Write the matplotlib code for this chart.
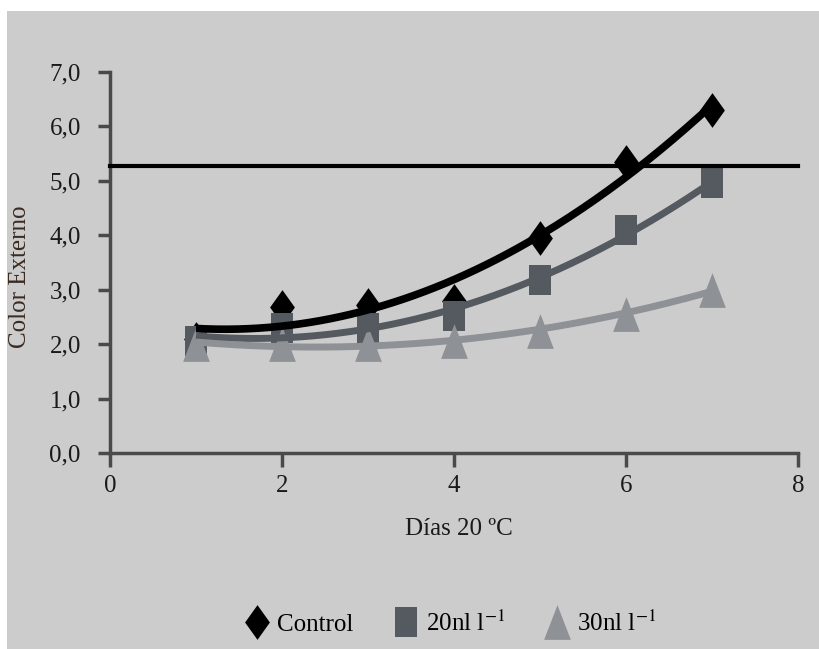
import matplotlib.pyplot as plt
import numpy as np
from matplotlib.patches import Rectangle
from matplotlib.lines import Line2D

# Data
dias = [1, 2, 3, 4, 5, 6, 7]
control = [2.1, 2.68, 2.72, 2.8, 3.95, 5.35, 6.3]
trat_20 = [2.05, 2.3, 2.3, 2.52, 3.18, 4.1, 4.96]
trat_30 = [2.0, 2.0, 2.0, 2.05, 2.25, 2.55, 3.0]
limite = 5.27
series_labels = ['Control', '20nl l$^{-1}$', '30nl l$^{-1}$']
y_ticks = [0, 1, 2, 3, 4, 5, 6, 7]
x_ticks = [0, 2, 4, 6, 8]


def main():
    plt.rcParams['font.family'] = ['Liberation Serif', 'DejaVu Serif']
    plt.rcParams['mathtext.fontset'] = 'stix'

    bg = '#cccccc'
    fig = plt.figure(figsize=(8.2, 6.49), dpi=100, facecolor='white')
    fig.patches.append(Rectangle((7 / 820, 0), 1, 1 - 11 / 649, transform=fig.transFigure,
                                 facecolor=bg, edgecolor='none', zorder=-10))
    ax = fig.add_axes([110 / 820, 1 - 453 / 649, 688 / 820, 381 / 649])
    ax.set_facecolor(bg)

    # tall markers (source image is stretched vertically)
    diamond = [(0, 1.4), (1, 0), (0, -1.4), (-1, 0), (0, 1.4)]
    square = [(-0.74, -1), (0.74, -1), (0.74, 1), (-0.74, 1), (-0.74, -1)]
    triangle = [(0, 1), (0.77, -1), (-0.77, -1), (0, 1)]

    styles = [
        (control, '#000000', '#000000', diamond, 25, 5.5),
        (trat_20, '#555a60', '#555a60', square, 22, 5),
        (trat_30, '#8e9195', '#8e9195', triangle, 25, 5),
    ]
    xs = np.linspace(1, 7, 200)
    handles = []
    for (vals, mcol, lcol, mk, ms, lw), lab in zip(styles, series_labels):
        ax.plot(dias, vals, linestyle='none', marker=mk, markersize=ms,
                color=mcol, markeredgewidth=0, zorder=3)
        coef = np.polyfit(dias, vals, 2)
        ax.plot(xs, np.polyval(coef, xs), color=lcol, lw=lw, zorder=4,
                solid_capstyle='butt')
        handles.append(Line2D([], [], linestyle='none', marker=mk, markersize=ms,
                              color=mcol, markeredgewidth=0, label=lab))

    ax.plot([0, 8], [limite, limite], color='#000000', lw=3, zorder=5, clip_on=False)

    ax.set_xlim(0, 8)
    ax.set_ylim(0, 7)
    ax.set_xticks(x_ticks)
    ax.set_yticks(y_ticks)
    ax.set_yticklabels([f'{v:.1f}'.replace('.', ',') for v in y_ticks])
    for s in ['top', 'right']:
        ax.spines[s].set_visible(False)
    for s in ['left', 'bottom']:
        ax.spines[s].set_color('#4a4a4a')
        ax.spines[s].set_linewidth(2.5)
    ax.tick_params(axis='y', direction='out', length=9, width=2.5, color='#4a4a4a',
                   pad=12, labelsize=18, labelcolor='#1a1a1a')
    ax.tick_params(axis='x', direction='out', length=10, width=2.5, color='#4a4a4a',
                   pad=6, labelsize=18, labelcolor='#1a1a1a')

    ax.set_xlabel('Días 20 ºC', fontsize=18, color='#1a1a1a')
    ax.xaxis.set_label_coords(0.507, -0.17)
    ax.set_ylabel('Color Externo', fontsize=18, color='#3a2a20')
    ax.yaxis.set_label_coords(-0.115, 0.462)

    fig.legend(handles=handles, loc='center', bbox_to_anchor=(0.549, 0.04), ncol=3,
               frameon=False, fontsize=18, handletextpad=0.3, columnspacing=1.6,
               handlelength=1.0)

    fig.savefig('out.png', dpi=100, facecolor='white')


if __name__ == '__main__':
    main()
